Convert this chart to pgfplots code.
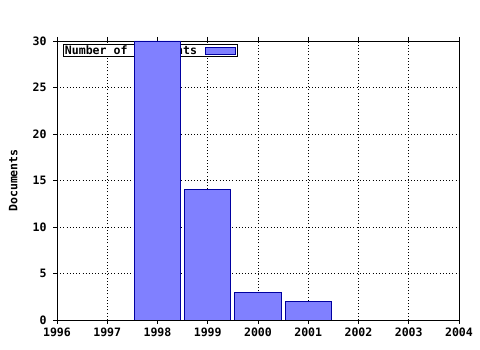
\documentclass[border=0pt]{standalone}
\usepackage{fontspec}
\setmainfont{DejaVu Sans Mono}
\usepackage{pgfplots}
\pgfplotsset{compat=1.18}
\definecolor{barfill}{HTML}{8080FF}
\definecolor{baredge}{HTML}{0000A0}
\begin{document}
\begin{tikzpicture}
\path[use as bounding box] (0,0) rectangle (480bp,350bp);
\begin{axis}[
  at={(57bp,30bp)}, anchor=south west,
  width=402bp, height=279bp, scale only axis,
  xmin=1996, xmax=2004, ymin=0, ymax=30,
  xtick={1996,...,2004}, ytick={0,5,...,30},
  minor x tick num=3,
  xticklabel style={/pgf/number format/1000 sep=},
  yticklabel style={xshift=-3bp},
  /pgf/number format/assume math mode=true,
  tick label style={font=\fontsize{11.6}{12}\selectfont\bfseries},
  label style={font=\fontsize{11.6}{12}\selectfont\bfseries},
  tick align=outside,
  xtick pos=both, ytick pos=left,
  major tick length=4bp, minor tick length=3bp,
  tick style={black, line width=0.8pt},
  axis line style={black, line width=0.8pt},
  grid=major, grid style={black, line width=0.8pt, dash pattern=on 1pt off 2.2pt},
  ylabel={Documents},
  ylabel style={at={(axis description cs:-0.109,0.5)}, anchor=center},
  ybar, bar width=0.92,
]
\node[draw=black, fill=white, line width=0.8pt, inner xsep=1.5bp, inner ysep=1.5bp,
  anchor=north west, font=\fontsize{11.6}{11}\selectfont\bfseries]
  at ([xshift=6bp,yshift=-3bp]axis description cs:0,1)
  {Number of documents\hspace{8bp}{\setlength{\fboxsep}{0pt}\setlength{\fboxrule}{0.8pt}\raisebox{0.5bp}{\fcolorbox{baredge}{barfill}{\rule[0pt]{0pt}{6bp}\hspace{29bp}}}}\hspace{8bp}};
\addplot[fill=barfill, draw=baredge, line width=0.8pt] coordinates {(1998,30) (1999,14) (2000,3) (2001,2)};
\end{axis}
\end{tikzpicture}
\end{document}
